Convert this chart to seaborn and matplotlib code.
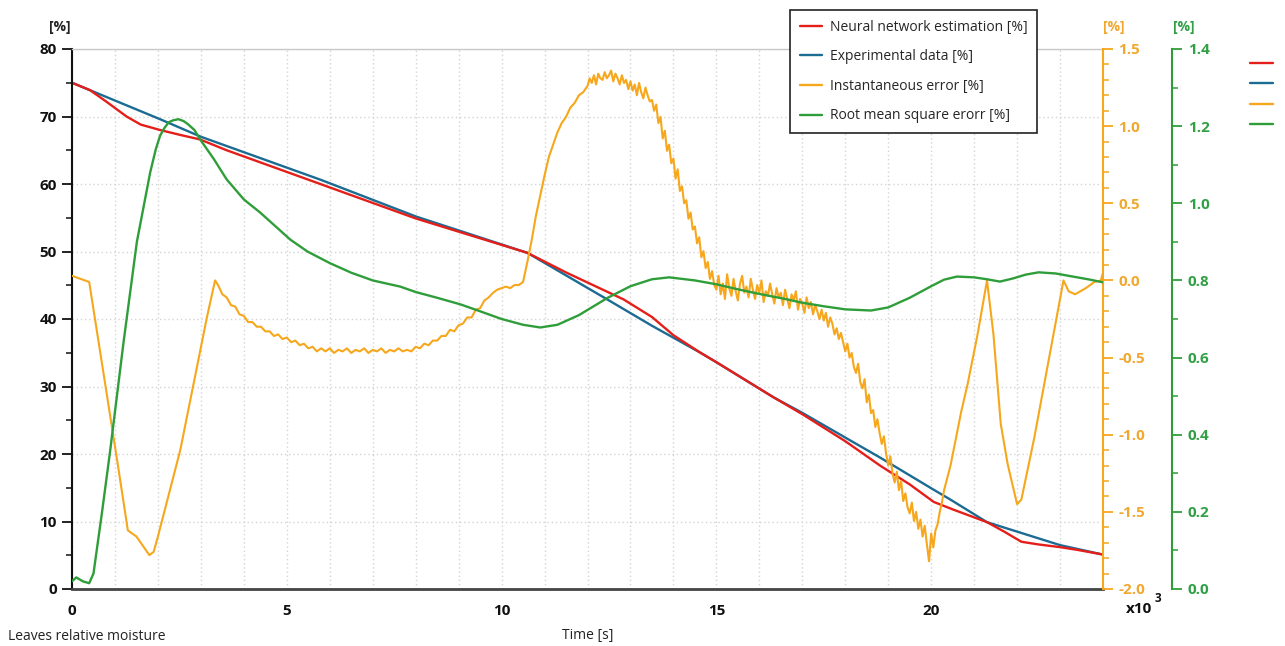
import matplotlib
matplotlib.use("Agg")
import matplotlib.pyplot as plt
import seaborn as sns
import numpy as np
import pandas as pd
from matplotlib.lines import Line2D
from matplotlib.ticker import MultipleLocator

# time is in thousands of seconds (x10^3)
# neural network estimation [%]
est_t = [0, 0.42, 0.8, 1.27, 1.6, 2.05, 2.5, 2.98, 3.6, 5.78, 8, 10.6, 11.5, 12.84, 13.5, 14,
         14.63, 15, 16.33, 17, 18, 18.83, 19.5, 20.06, 20.5, 21.3, 21.7, 22.1, 22.5, 23, 23.4, 24]
est_v = [75, 73.9, 72.2, 70.0, 68.8, 68.0, 67.3, 66.6, 65.0, 60.0, 54.9, 49.8, 46.9, 42.9, 40.3, 37.6,
         35.0, 33.6, 28.4, 25.9, 21.9, 18.2, 15.5, 12.9, 11.8, 9.9, 8.5, 7.0, 6.6, 6.2, 5.8, 5.1]

# experimental data [%]
exp_t = [0, 2.05, 3, 5.8, 8, 10.6, 12.46, 13.5, 14.63, 15, 16.33, 17, 18.83, 20.06, 20.46, 21.3,
         22.2, 23, 24]
exp_v = [75, 69.6, 67.0, 60.6, 55.2, 49.8, 42.9, 39.0, 35.0, 33.6, 28.4, 26.1, 19.4, 14.7, 13.2, 9.9,
         8.1, 6.5, 5.1]

# instantaneous error [%] - read piece by piece
err_a_t = [0, 0.4, 1.07, 1.3, 1.5, 1.8, 1.9, 2.0, 2.52, 3.14, 3.33]
err_a_v = [0.03, -0.01, -1.2, -1.62, -1.66, -1.78, -1.76, -1.66, -1.1, -0.24, 0.0]
# 3.4 .. 10.5, every 0.1
err_b_v = [-0.03, -0.09, -0.11, -0.16, -0.17, -0.22, -0.23, -0.27, -0.27, -0.30,
           -0.30, -0.33, -0.33, -0.36, -0.35, -0.38, -0.37, -0.40, -0.39, -0.42,
           -0.41, -0.44, -0.43, -0.46, -0.44, -0.46, -0.44, -0.47, -0.45, -0.46,
           -0.44, -0.47, -0.45, -0.46, -0.44, -0.47, -0.45, -0.46, -0.44, -0.47,
           -0.45, -0.46, -0.44, -0.46, -0.45, -0.46, -0.43, -0.44, -0.41, -0.42,
           -0.39, -0.39, -0.36, -0.36, -0.32, -0.33, -0.29, -0.28, -0.24, -0.24,
           -0.19, -0.18, -0.13, -0.11, -0.08, -0.06, -0.05, -0.04, -0.05, -0.03,
           -0.03, -0.01]
# 10.6 .. 11.9, every 0.1
err_c_v = [0.12, 0.26, 0.42, 0.55, 0.68, 0.80, 0.88, 0.96, 1.02, 1.06, 1.12, 1.15, 1.20, 1.22]
# 12.0 .. 20.3, every 0.05
err_d_v = [1.26, 1.31, 1.28, 1.33, 1.27, 1.34, 1.31, 1.30, 1.35, 1.31,
           1.33, 1.36, 1.29, 1.34, 1.31, 1.27, 1.33, 1.28, 1.30, 1.24,
           1.29, 1.23, 1.27, 1.20, 1.28, 1.22, 1.18, 1.25, 1.20, 1.16,
           1.17, 1.10, 1.14, 1.02, 1.06, 0.92, 0.97, 0.84, 0.88, 0.76,
           0.79, 0.66, 0.72, 0.58, 0.61, 0.50, 0.52, 0.40, 0.44, 0.33,
           0.35, 0.24, 0.28, 0.15, 0.19, 0.08, 0.12, 0.01, 0.06, -0.03,
           -0.06, 0.03, -0.09, -0.02, -0.12, 0.04, -0.05, -0.10, 0.01, -0.07,
           -0.13, -0.02, 0.03, -0.08, -0.04, -0.11, 0.01, -0.06, -0.12, -0.03,
           -0.08, 0.00, -0.14, -0.07, -0.10, -0.02, -0.09, -0.15, -0.05, -0.11,
           -0.08, -0.16, -0.06, -0.12, -0.18, -0.09, -0.13, -0.07, -0.19, -0.12,
           -0.15, -0.21, -0.11, -0.18, -0.14, -0.22, -0.16, -0.20, -0.25, -0.19,
           -0.26, -0.21, -0.30, -0.24, -0.28, -0.35, -0.31, -0.38, -0.34, -0.40,
           -0.46, -0.41, -0.50, -0.47, -0.56, -0.60, -0.54, -0.66, -0.70, -0.64,
           -0.79, -0.74, -0.86, -0.84, -0.95, -0.90, -0.99, -1.06, -1.01, -1.12,
           -1.20, -1.14, -1.25, -1.31, -1.24, -1.36, -1.30, -1.43, -1.38, -1.47,
           -1.51, -1.44, -1.56, -1.50, -1.61, -1.55, -1.66, -1.59, -1.71, -1.82,
           -1.64, -1.73, -1.62, -1.58, -1.50, -1.44, -1.36]
err_e_t = [20.45, 20.7, 20.85, 21.08, 21.3, 21.45, 21.62, 21.78, 22.0, 22.1, 22.4, 22.78, 23.08,
           23.2, 23.35, 23.6, 23.8, 23.95, 24.0]
err_e_v = [-1.2, -0.85, -0.67, -0.35, 0.0, -0.35, -0.93, -1.19, -1.45, -1.42, -1.02, -0.45, 0.0,
           -0.07, -0.09, -0.05, -0.01, 0.0, 0.05]

# root mean square error [%]
rms_t = [0, 0.1, 0.25, 0.4, 0.5, 0.7, 0.89, 1.2, 1.51, 1.82, 1.95, 2.05, 2.15, 2.25, 2.35, 2.48,
         2.6, 2.7, 2.85, 2.98, 3.3, 3.6, 4.0, 4.38, 5.08, 5.48, 6, 6.5, 7, 7.64, 8, 8.5, 9.04, 9.5,
         10, 10.5, 10.9, 11.3, 11.8, 12.47, 13, 13.5, 13.9, 14.5, 15, 15.5, 16, 16.6, 16.96, 17.5,
         18, 18.6, 19, 19.5, 20, 20.3, 20.6, 21, 21.3, 21.6, 21.9, 22.2, 22.5, 22.9, 23.3, 23.7, 24]
rms_v = [0.02, 0.03, 0.02, 0.015, 0.04, 0.2, 0.36, 0.64, 0.9, 1.08, 1.14, 1.175, 1.195, 1.21,
         1.215, 1.218, 1.213, 1.205, 1.19, 1.166, 1.115, 1.062, 1.01, 0.976, 0.906, 0.875, 0.845,
         0.82, 0.80, 0.784, 0.77, 0.755, 0.738, 0.72, 0.70, 0.685, 0.678, 0.685, 0.71, 0.755,
         0.785, 0.803, 0.808, 0.80, 0.79, 0.777, 0.765, 0.752, 0.743, 0.733, 0.725, 0.722, 0.73,
         0.755, 0.785, 0.802, 0.81, 0.808, 0.803, 0.797, 0.805, 0.815, 0.821, 0.818, 0.81, 0.802,
         0.795]

err_t = np.concatenate([err_a_t,
                        np.linspace(3.4, 10.5, len(err_b_v)),
                        np.linspace(10.6, 11.9, len(err_c_v)),
                        np.linspace(12.0, 20.3, len(err_d_v)),
                        err_e_t])
err_v = np.concatenate([err_a_v, err_b_v, err_c_v, err_d_v, err_e_v])

labels = ["Neural network estimation [%]", "Experimental data [%]",
          "Instantaneous error [%]", "Root mean square erorr [%]"]

RED = "#e41f1a"
BLUE = "#1b6b93"
ORANGE = "#f6a71c"
GREEN = "#2f9e3a"
ORANGE_TXT = "#f0a830"
GREEN_TXT = "#31a045"

sns.set_style("white")
plt.rcParams["font.family"] = ["Open Sans", "DejaVu Sans"]

fig = plt.figure(figsize=(12.85, 6.46), dpi=100)
ax = fig.add_axes([72 / 1285, 1 - 589 / 646, (1103 - 72) / 1285, (589 - 49) / 646])
ax2 = ax.twinx()
ax3 = ax.twinx()

df_est = pd.DataFrame({"t": est_t, "v": est_v})
df_exp = pd.DataFrame({"t": exp_t, "v": exp_v})
df_err = pd.DataFrame({"t": err_t, "v": err_v})
df_rms = pd.DataFrame({"t": rms_t, "v": rms_v})

sns.lineplot(data=df_exp, x="t", y="v", ax=ax, color=BLUE, lw=1.7, estimator=None, sort=False)
sns.lineplot(data=df_est, x="t", y="v", ax=ax, color=RED, lw=1.7, estimator=None, sort=False)
sns.lineplot(data=df_err, x="t", y="v", ax=ax2, color=ORANGE, lw=1.5, estimator=None, sort=False)
sns.lineplot(data=df_rms, x="t", y="v", ax=ax3, color=GREEN, lw=1.7, estimator=None, sort=False)

# main axis
ax.set_xlim(0, 24)
ax.set_ylim(0, 80)
ax.xaxis.set_major_locator(MultipleLocator(5))
ax.xaxis.set_minor_locator(MultipleLocator(1))
ax.yaxis.set_major_locator(MultipleLocator(10))
ax.yaxis.set_minor_locator(MultipleLocator(5))
ax.grid(True, which="major", color="#d4d4d4", ls=(0, (1, 2)), lw=1)
ax.grid(True, which="minor", axis="x", color="#d4d4d4", ls=(0, (1, 2)), lw=1)
ax.set_axisbelow(True)
ax.tick_params(axis="both", which="major", direction="out", length=7, width=1.3,
               labelsize=11, pad=4, colors="#111111")
ax.tick_params(axis="both", which="minor", direction="out", length=4, width=1.1, colors="#111111")
ax.tick_params(axis="x", which="major", pad=4)
for lab in ax.get_xticklabels() + ax.get_yticklabels():
    lab.set_fontweight("bold")
ax.spines["left"].set_color("#111111")
ax.spines["left"].set_linewidth(1.5)
ax.spines["bottom"].set_color("#444444")
ax.spines["bottom"].set_linewidth(2)
ax.spines["top"].set_color("#c8c8c8")
ax.spines["top"].set_linewidth(1)
ax.spines["right"].set_visible(False)
ax.set_ylabel("")
ax.set_xlabel("")

# instantaneous error axis
ax2.set_ylim(-2.0, 1.5)
ax2.yaxis.set_minor_locator(MultipleLocator(0.1))
for s in ["left", "top", "bottom"]:
    ax2.spines[s].set_visible(False)
ax2.spines["right"].set_color(ORANGE)
ax2.spines["right"].set_linewidth(1.5)
ax2.set_yticks(np.arange(-2.0, 1.51, 0.5))
ax2.set_yticklabels([f"{v:.1f}" for v in np.arange(-2.0, 1.51, 0.5)], fontweight="bold")
ax2.tick_params(axis="y", which="major", direction="out", length=7, width=1.3, color=ORANGE,
                labelcolor=ORANGE_TXT, labelsize=11, pad=4)
ax2.tick_params(axis="y", which="minor", direction="out", length=4, width=1.1, color=ORANGE)
ax2.set_ylabel("")
ax2.grid(False)

# rms error axis
ax3.set_ylim(0, 1.4)
ax3.spines["right"].set_position(("outward", 50))
for s in ["left", "top", "bottom"]:
    ax3.spines[s].set_visible(False)
ax3.spines["right"].set_color(GREEN)
ax3.spines["right"].set_linewidth(1.5)
ax3.yaxis.set_minor_locator(MultipleLocator(0.1))
ax3.set_yticks(np.arange(0, 1.41, 0.2))
ax3.set_yticklabels([f"{v:.1f}" for v in np.arange(0, 1.41, 0.2)], fontweight="bold")
ax3.tick_params(axis="y", which="major", direction="out", length=7, width=1.3, color=GREEN,
                labelcolor=GREEN_TXT, labelsize=11, pad=4)
ax3.tick_params(axis="y", which="minor", direction="out", length=4, width=1.1, color=GREEN)
ax3.set_ylabel("")
ax3.grid(False)

# unit labels, axis captions and multiplier
fig.text(71 / 1285, 1 - 27 / 646, "[%]", ha="right", va="center", fontsize=10, fontweight="bold",
         color="#222222")
fig.text(1103 / 1285, 1 - 27 / 646, "[%]", ha="left", va="center", fontsize=10, fontweight="bold",
         color=ORANGE_TXT)
fig.text(1173 / 1285, 1 - 27 / 646, "[%]", ha="left", va="center", fontsize=10, fontweight="bold",
         color=GREEN_TXT)
fig.text(1126 / 1285, 1 - 609 / 646, "x10", ha="left", va="center", fontsize=11, fontweight="bold",
         color="#111111")
fig.text(1155 / 1285, 1 - 598 / 646, "3", ha="left", va="center", fontsize=8.5, fontweight="bold",
         color="#111111")
fig.text(8 / 1285, 1 - 636 / 646, "Leaves relative moisture", ha="left", va="center", fontsize=10,
         color="#222222")
fig.text(588 / 1285, 1 - 636 / 646, "Time [s]", ha="center", va="center", fontsize=10,
         color="#222222")

# legend
colors = [RED, BLUE, ORANGE, GREEN]
handles = [Line2D([], [], color=c, lw=1.7) for c in colors]
leg = fig.legend(handles, labels, loc="upper left", bbox_to_anchor=(790 / 1285, 1 - 10 / 646),
                 fontsize=10, frameon=True, fancybox=False, framealpha=1, edgecolor="#222222",
                 handlelength=1.6, handletextpad=0.55, labelspacing=1.05, borderpad=0.7,
                 borderaxespad=0)
leg.get_frame().set_linewidth(1.2)

# stray legend keys on the far right
leg2 = fig.legend([Line2D([], [], color=c, lw=1.7) for c in colors], ["", "", "", ""],
                  loc="upper left", bbox_to_anchor=(1250 / 1285, 1 - 57 / 646), frameon=False,
                  fontsize=10, handlelength=1.65, handletextpad=0, labelspacing=0.38,
                  borderpad=0, borderaxespad=0)

fig.canvas.draw()
r = fig.canvas.get_renderer()
txt = leg.get_texts()
b1 = txt[1].get_window_extent(r)
b2 = txt[2].get_window_extent(r)
fb = leg.get_frame().get_window_extent(r)
ymid = (b1.y0 + b2.y1) / 2
inv = fig.transFigure.inverted()
(x0, y0), (x1, _) = inv.transform([(fb.x0 + 5, ymid), (fb.x1 - 5, ymid)])
fig.add_artist(Line2D([x0, x1], [y0, y0], transform=fig.transFigure, color="#aaaaaa", lw=1))

fig.savefig("out.png", dpi=100)
